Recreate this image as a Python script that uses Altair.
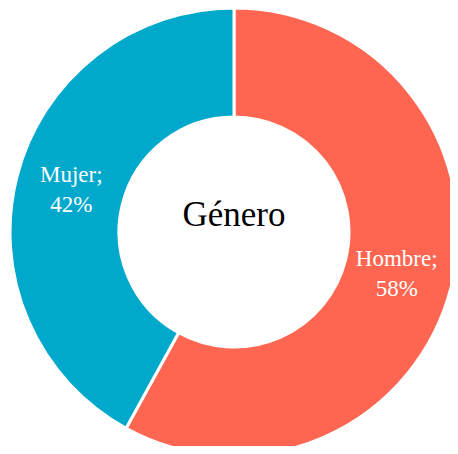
import altair as alt
import pandas as pd

categories = ["Hombre", "Mujer"]
values = [58, 42]
colors = ["#FF6652", "#00A8CC"]
center_title = "Género"

df = pd.DataFrame({
    "cat": categories,
    "value": values,
    "idx": list(range(len(categories))),
    "label": [f"{c};\n{v}%" for c, v in zip(categories, values)],
})

CX, CY = 226, 224

base = alt.Chart(df).encode(
    theta=alt.Theta("value:Q", stack=True),
    order=alt.Order("idx:Q"),
)

arcs = base.mark_arc(innerRadius=115, outerRadius=224, stroke="white", strokeWidth=3).encode(
    color=alt.Color("cat:N", scale=alt.Scale(domain=categories, range=colors), legend=None),
    x=alt.value(CX), y=alt.value(CY),
)

labels = base.mark_text(
    radius=168, font="Liberation Serif", fontSize=23, lineBreak="\n", lineHeight=30,
    align="center", baseline="middle", dy=-15,
).encode(
    text="label:N", color=alt.value("white"),
    x=alt.value(CX), y=alt.value(CY),
)

center = alt.Chart(pd.DataFrame({"t": [center_title]})).mark_text(
    font="Liberation Serif", fontSize=35, align="center", baseline="alphabetic", color="black"
).encode(text="t:N", x=alt.value(CX), y=alt.value(CY - 6))

chart = alt.layer(arcs, labels, center).properties(
    width=442, height=438, padding=0, autosize="none"
).configure_view(stroke=None)

chart.save("out.html", embed_options={"renderer": "svg", "actions": False})
